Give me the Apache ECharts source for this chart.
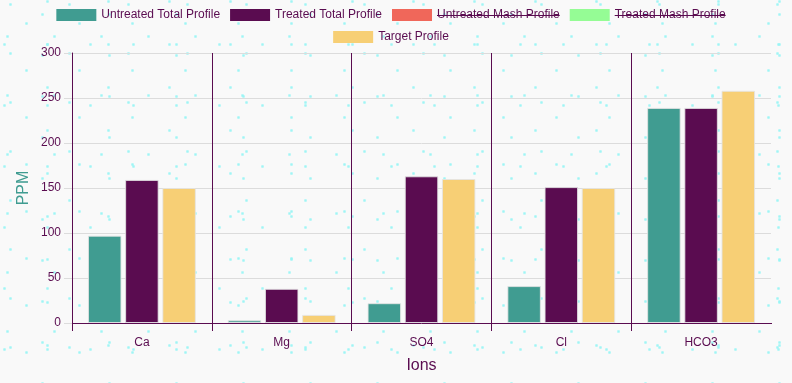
<!DOCTYPE html>
<html>
<head>
<meta charset="utf-8">
<script src="https://cdn.jsdelivr.net/npm/echarts@6/dist/echarts.min.js"></script>
<style>
html,body{margin:0;padding:0;width:792px;height:383px;overflow:hidden;}
body{
  background-color:#f9f9f9;
  background-image:
    radial-gradient(circle at 50% 50%, rgba(150,245,245,0.9) 0, rgba(150,245,245,0.6) 1.2px, rgba(150,245,245,0) 2px),
    radial-gradient(circle at 50% 50%, rgba(150,245,245,0.9) 0, rgba(150,245,245,0.6) 1.2px, rgba(150,245,245,0) 2px),
    radial-gradient(circle at 50% 50%, rgba(150,245,245,0.9) 0, rgba(150,245,245,0.6) 1.2px, rgba(150,245,245,0) 2px),
    radial-gradient(circle at 50% 50%, rgba(150,245,245,0.9) 0, rgba(150,245,245,0.6) 1.2px, rgba(150,245,245,0) 2px),
    radial-gradient(circle at 50% 50%, rgba(150,245,245,0.9) 0, rgba(150,245,245,0.6) 1.2px, rgba(150,245,245,0) 2px),
    radial-gradient(circle at 50% 50%, rgba(150,245,245,0.9) 0, rgba(150,245,245,0.6) 1.2px, rgba(150,245,245,0) 2px);
  background-size:53px 47px, 61px 43px, 47px 59px, 67px 41px, 43px 61px, 59px 49px;
  background-position:0 0, 17px 23px, 31px 7px, 9px 35px, 26px 14px, 40px 29px;
}
#chart{width:792px;height:383px;}
</style>
</head>
<body>
<div id="chart"></div>
<script>
var categories = ['Ca', 'Mg', 'SO4', 'Cl', 'HCO3'];
var untreatedTotal = [97, 3, 22, 41, 239];
var treatedTotal = [159, 38, 163, 151, 239];
var untreatedMash = [];
var treatedMash = [];
var targetProfile = [150, 9, 160, 150, 258];
var yTicks = { min: 0, max: 300, interval: 50 };

var seriesNames = ['Untreated Total Profile', 'Treated Total Profile', 'Untreated Mash Profile', 'Treated Mash Profile', 'Target Profile'];
var colors = ['#409c91', '#5a0c50', '#f0675a', '#95fc95', '#f7cf75'];
var purple = '#5a0c50';
var FONT = '"Liberation Sans", Arial, Helvetica, sans-serif';

// measure legend text for strikethrough decoration of hidden series
var ctx = document.createElement('canvas').getContext('2d');
ctx.font = '12px ' + FONT;
function tw(s){ return ctx.measureText(s).width; }
var ITEM_W = 40, ITEM_H = 12, TEXT_GAP = 5, GAP = 10;
var LEGEND_CENTER = 391;
var row1 = seriesNames.slice(0, 4);
var widths = row1.map(function(n){ return ITEM_W + TEXT_GAP + tw(n); });
var total = widths.reduce(function(a,b){return a+b;},0) + GAP * (row1.length - 1);
var x0 = LEGEND_CENTER - total / 2;
var row2W = ITEM_W + TEXT_GAP + tw(seriesNames[4]);
var x1 = LEGEND_CENTER - row2W / 2;
var deco = [];
var cx = x0;
row1.forEach(function(n, i){
  if (i === 2 || i === 3) {
    var tx = cx + ITEM_W + TEXT_GAP;
    deco.push({
      type: 'line', silent: true,
      shape: { x1: tx, y1: 15.5, x2: tx + tw(n), y2: 15.5 },
      style: { stroke: purple, lineWidth: 1 }
    });
  }
  cx += widths[i] + GAP;
});
// hide the tick below the right end of the category axis (reference has none there)
deco.push({
  type: 'rect', silent: true, z: 100,
  shape: { x: 769, y: 324, width: 4, height: 9 },
  style: { fill: '#f9f9f9' }
});

var barStyle = function(c){
  return { color: c, borderColor: 'rgba(228,228,228,0.85)', borderWidth: 1 };
};

var chart = echarts.init(document.getElementById('chart'), null, { renderer: 'canvas' });
chart.setOption({
  backgroundColor: 'transparent',
  animation: false,
  textStyle: { fontFamily: FONT },
  legend: [
    {
      data: row1, top: 9, left: x0, padding: 0,
      itemWidth: ITEM_W, itemHeight: ITEM_H, itemGap: GAP, icon: 'rect',
      itemStyle: { borderWidth: 0 },
      textStyle: { color: purple, fontSize: 12, fontFamily: FONT },
      selectedMode: false
    },
    {
      data: [seriesNames[4]], top: 31, left: x1, padding: 0,
      itemWidth: ITEM_W, itemHeight: ITEM_H, itemGap: GAP, icon: 'rect',
      itemStyle: { borderWidth: 0 },
      textStyle: { color: purple, fontSize: 12, fontFamily: FONT },
      selectedMode: false
    }
  ],
  grid: [
    { left: 72, right: 21, top: 53, bottom: 60, containLabel: false },
    { left: 0, top: 0, width: 1, height: 1, show: false }
  ],
  xAxis: [
    {
      type: 'category', data: categories, gridIndex: 0,
      name: 'Ions', nameLocation: 'middle', nameGap: 35, nameMoveOverlap: false,
      nameTextStyle: { color: purple, fontSize: 16, fontFamily: FONT },
      axisLine: { show: true, lineStyle: { color: purple, width: 1 } },
      axisTick: { show: true, length: 8, alignWithLabel: false, lineStyle: { color: purple } },
      axisLabel: { color: purple, fontSize: 12, margin: 14, fontFamily: FONT },
      splitLine: { show: true, showMaxLine: false, lineStyle: { color: purple, width: 1 } }
    },
    { type: 'category', gridIndex: 1, show: false, data: categories }
  ],
  yAxis: [
    {
      type: 'value', gridIndex: 0, min: yTicks.min, max: yTicks.max, interval: yTicks.interval,
      name: 'PPM', nameLocation: 'middle', nameGap: 40, nameMoveOverlap: false,
      nameTextStyle: { color: '#409c91', fontSize: 16, fontFamily: FONT },
      axisLine: { show: true, lineStyle: { color: purple, width: 1 } },
      axisTick: { show: true, length: 8, lineStyle: { color: '#dcdcdc' } },
      axisLabel: { color: purple, fontSize: 12, margin: 11, fontFamily: FONT },
      splitLine: { show: true, lineStyle: { color: '#dcdcdc', width: 1 } }
    },
    { type: 'value', gridIndex: 1, show: false }
  ],
  series: [
    { name: seriesNames[0], type: 'bar', xAxisIndex: 0, yAxisIndex: 0, data: untreatedTotal, barWidth: 33.5, barGap: '11%', itemStyle: barStyle(colors[0]) },
    { name: seriesNames[1], type: 'bar', xAxisIndex: 0, yAxisIndex: 0, data: treatedTotal, barWidth: 33.5, barGap: '11%', itemStyle: barStyle(colors[1]) },
    { name: seriesNames[2], type: 'bar', xAxisIndex: 1, yAxisIndex: 1, data: untreatedMash, itemStyle: { color: colors[2] } },
    { name: seriesNames[3], type: 'bar', xAxisIndex: 1, yAxisIndex: 1, data: treatedMash, itemStyle: { color: colors[3] } },
    { name: seriesNames[4], type: 'bar', xAxisIndex: 0, yAxisIndex: 0, data: targetProfile, barWidth: 33.5, barGap: '11%', itemStyle: barStyle(colors[4]) }
  ],
  graphic: deco
});
</script>
</body>
</html>
